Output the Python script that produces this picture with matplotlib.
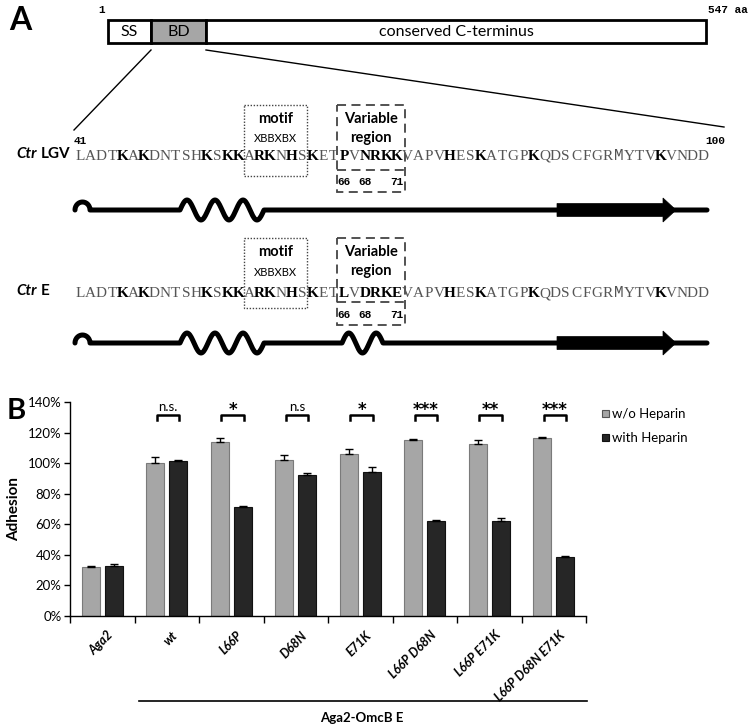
import matplotlib
matplotlib.use('Agg')
import matplotlib.pyplot as plt
import numpy as np
from matplotlib.patches import Rectangle, Polygon
from matplotlib.transforms import offset_copy

# ---------------- data ----------------
groups = ['Aga2', 'wt', 'L66P', 'D68N', 'E71K', 'L66P D68N', 'L66P E71K', 'L66P D68N E71K']
without_heparin = [32, 100, 114, 102, 106, 115, 112.5, 116.5]
without_err = [1, 4, 2.5, 3.5, 3, 0.5, 2.5, 0.5]
with_heparin = [32.5, 101.5, 71.5, 92, 94, 62, 62, 38.5]
with_err = [1.5, 0.5, 0.5, 1.5, 3.4, 0.5, 2, 0.5]
significance = ['', 'n.s.', '*', 'n.s', '*', '***', '**', '***']
ytick_vals = [0, 20, 40, 60, 80, 100, 120, 140]
ytick_labels = ['0%', '20%', '40%', '60%', '80%', '100%', '120%', '140%']
legend_labels = ['w/o Heparin', 'with Heparin']

seq_start = 41
seq_end = 100
seq_lgv = "LADTKAKDNTSHKSKKARKNHSKETPVNRKKVAPVHESKATGPKQDSCFGRMYTVKVNDD"
seq_e = "LADTKAKDNTSHKSKKARKNHSKETLVDRKEVAPVHESKATGPKQDSCFGRMYTVKVNDD"
bold_residues = [45, 47, 53, 55, 56, 58, 59, 61, 63, 66, 68, 69, 70, 71, 76, 79, 84, 96]
variable_labels = [66, 68, 71]
motif_residues = (57, 62)
variable_residues = (66, 71)

SANS = 'Lato'
SEQF = 'Liberation Serif'
MONO = 'Liberation Mono'

fig = plt.figure(figsize=(7.5, 7.26), dpi=100)
ov = fig.add_axes([0, 0, 1, 1])
ov.set_xlim(0, 750)
ov.set_ylim(726, 0)
ov.axis('off')

# ---------------- Panel A ----------------
ov.text(9, 20, 'A', fontsize=23, fontweight='bold', family=SANS, ha='left', va='center')
ov.text(102, 10, '1', fontsize=8, fontweight='bold', family=MONO, ha='center', va='center')
ov.text(748, 10, '547 aa', fontsize=8, fontweight='bold', family=MONO, ha='right', va='center')

bx0, bx1, bx2, bx3 = 108, 151, 206, 706
by0, by1 = 20, 42.5
ov.add_patch(Rectangle((bx0, by0), bx1 - bx0, by1 - by0, fc='white', ec='black', lw=2))
ov.add_patch(Rectangle((bx1, by0), bx2 - bx1, by1 - by0, fc='#a6a6a6', ec='black', lw=2))
ov.add_patch(Rectangle((bx2, by0), bx3 - bx2, by1 - by0, fc='white', ec='black', lw=2))
ov.text((bx0 + bx1) / 2, 31.5, 'SS', fontsize=11.5, family=SANS, ha='center', va='center')
ov.text((bx1 + bx2) / 2, 31.5, 'BD', fontsize=11.5, family=SANS, ha='center', va='center')
ov.text((bx2 + bx3) / 2, 31.5, 'conserved C-terminus', fontsize=11.5, family=SANS, ha='center', va='center')

ov.plot([151, 74], [50, 130], color='black', lw=1)
ov.plot([206, 724], [50, 127], color='black', lw=1)
ov.text(80, 141, str(seq_start), fontsize=8, fontweight='bold', family=MONO, ha='center', va='center')
ov.text(715, 141, str(seq_end), fontsize=8, fontweight='bold', family=MONO, ha='center', va='center')

x0seq = 75.0
cw = 10.55


def cx(res):
    return x0seq + (res - seq_start + 0.5) * cw


def draw_seq(seq, y, name):
    ov.text(16, y, 'Ctr', fontsize=11, fontweight='bold', fontstyle='italic', family=SANS, ha='left', va='center')
    ov.text(41, y, name, fontsize=11, fontweight='bold', family=SANS, ha='left', va='center')
    for i, ch in enumerate(seq):
        res = seq_start + i
        fam = MONO if ch == 'M' else SEQF
        fs = 11.5 if ch == 'M' else 11
        if res in bold_residues:
            ov.text(cx(res), y + 6, ch, fontsize=fs, fontweight='bold', family=fam,
                    ha='center', va='baseline', color='black')
        else:
            ov.text(cx(res), y + 6, ch, fontsize=fs, family=fam,
                    ha='center', va='baseline', color='#555555')


def draw_boxes(ytop, yseq, ybot_motif, ybot_var, yline, ynum):
    mx0 = cx(motif_residues[0]) - cw / 2
    mx1 = cx(motif_residues[1]) + cw / 2
    ov.add_patch(Rectangle((mx0, ytop), mx1 - mx0, ybot_motif - ytop, fill=False,
                           ec='#444444', lw=1.0, ls=(0, (1, 1.2))))
    ov.text((mx0 + mx1) / 2, ytop + 14, 'motif', fontsize=10.5, fontweight='bold', family=SANS,
            ha='center', va='center')
    ov.text((mx0 + mx1) / 2, ytop + 34, 'XBBXBX', fontsize=8, family=SANS, ha='center', va='center')
    vx0 = cx(variable_residues[0]) - cw / 2 - 2
    vx1 = cx(variable_residues[1]) + cw / 2 + 3
    ov.add_patch(Rectangle((vx0, ytop), vx1 - vx0, ybot_var - ytop, fill=False,
                           ec='#444444', lw=1.3, ls=(0, (5, 3))))
    ov.text((vx0 + vx1) / 2, ytop + 14, 'Variable', fontsize=10.5, fontweight='bold', family=SANS,
            ha='center', va='center')
    ov.text((vx0 + vx1) / 2, ytop + 33, 'region', fontsize=10.5, fontweight='bold', family=SANS,
            ha='center', va='center')
    ov.plot([vx0, vx1], [yline, yline], color='#444444', lw=1.3, ls=(0, (5, 3)))
    for r in variable_labels:
        ov.text(cx(r), ynum, str(r), fontsize=8, family=MONO, fontweight='bold',
                ha='center', va='center')


def draw_structure(y, helices):
    lw = 3.6
    t = np.linspace(np.pi, 0, 30)
    hx = 82.5 + 7.5 * np.cos(t)
    hy = y - 8 * np.sin(t)
    xs = list(hx)
    ys = list(hy)
    cur = 90
    for (h0, h1, periods) in helices:
        xs += [cur, h0]
        ys += [y, y]
        tt = np.linspace(0, 1, 120)
        xs += list(h0 + (h1 - h0) * tt)
        ys += list(y - 10 * np.sin(2 * np.pi * periods * tt))
        cur = h1
    xs += [cur, 707]
    ys += [y, y]
    ov.plot(xs, ys, color='black', lw=lw, solid_capstyle='round', solid_joinstyle='round')
    ax0, ah, at = 557, 663, 676
    ov.add_patch(Polygon([(ax0, y - 6.5), (ah, y - 6.5), (ah, y - 12), (at, y),
                          (ah, y + 12), (ah, y + 6.5), (ax0, y + 6.5)], closed=True,
                         fc='black', ec='black', lw=0.5))


draw_seq(seq_lgv, 154, 'LGV')
draw_boxes(105, 154, 176, 192, 170, 182)
draw_structure(210, [(180, 264, 3)])

draw_seq(seq_e, 291, 'E')
draw_boxes(238, 291, 308, 325, 302, 315)
draw_structure(343, [(180, 264, 3), (342, 383, 1.5)])

# ---------------- Panel B ----------------
ov.text(7, 411, 'B', fontsize=21, fontweight='bold', family=SANS, ha='left', va='center')

ax = fig.add_axes([70 / 750, 1 - 616 / 726, 516 / 750, 214 / 726])
n = len(groups)
xg = np.arange(n)
bw = 0.28
off = 0.175
ax.bar(xg - off, without_heparin, bw, color='#a6a6a6', edgecolor='#7a7a7a', lw=0.8, zorder=2)
ax.bar(xg + off, with_heparin, bw, color='#262626', edgecolor='#111111', lw=0.8, zorder=2)
ax.errorbar(xg - off, without_heparin, yerr=[np.zeros(n), without_err], fmt='none',
            ecolor='black', elinewidth=1, capsize=3, capthick=1, zorder=3)
ax.errorbar(xg + off, with_heparin, yerr=[np.zeros(n), with_err], fmt='none',
            ecolor='black', elinewidth=1, capsize=3, capthick=1, zorder=3)
ax.set_xlim(-0.5, n - 0.5)
ax.set_ylim(0, 140)
ax.set_yticks(ytick_vals)
ax.set_yticklabels(ytick_labels, family=SANS, fontsize=9.5)
ax.tick_params(axis='y', direction='out', length=4, width=1, pad=2)
ax.set_xticks(np.arange(-0.5, n, 1.0))
ax.set_xticklabels([])
ax.tick_params(axis='x', direction='out', length=5, width=1)
for s in ['top', 'right']:
    ax.spines[s].set_visible(False)
for s in ['left', 'bottom']:
    ax.spines[s].set_linewidth(1)
ax.set_ylabel('Adhesion', family=SANS, fontsize=11, fontweight='bold', labelpad=5)
ax.patch.set_alpha(0)

for g, lab in enumerate(groups):
    tr = offset_copy(ax.get_xaxis_transform(), fig=fig, x=5 * 0.72, y=-13 * 0.72, units='points')
    ax.text(g, 0, lab, transform=tr, rotation=45, rotation_mode='anchor', ha='right', va='top',
            fontsize=9, fontweight='bold', fontstyle='italic', family=SANS)

for g, s in enumerate(significance):
    if not s:
        continue
    xl, xr = g - off + 0.02, g + off + 0.02
    ax.plot([xl, xl, xr, xr], [128, 131.5, 131.5, 128], color='black', lw=1.8, clip_on=False)
    if '*' in s:
        ax.text(g + 0.02, 134.5, s, ha='center', va='center', fontsize=12, fontweight='bold',
                family='DejaVu Sans', clip_on=False)
    else:
        ax.text(g + 0.02, 137, s, ha='center', va='center', fontsize=9.5, family=SANS, clip_on=False)

for k, (lab, fc, ec) in enumerate(zip(legend_labels, ['#a6a6a6', '#262626'], ['#555555', '#111111'])):
    yy = 413.5 + 24 * k
    ov.add_patch(Rectangle((602, yy - 3.5), 7, 7, fc=fc, ec=ec, lw=0.8))
    ov.text(612, yy, lab, fontsize=9.5, family=SANS, ha='left', va='center')

ov.plot([139, 587], [700.5, 700.5], color='black', lw=1.2)
ov.text(362, 718, 'Aga2-OmcB E', fontsize=9.5, fontweight='bold', family=SANS, ha='center', va='center')

fig.savefig('out.png', dpi=100)
